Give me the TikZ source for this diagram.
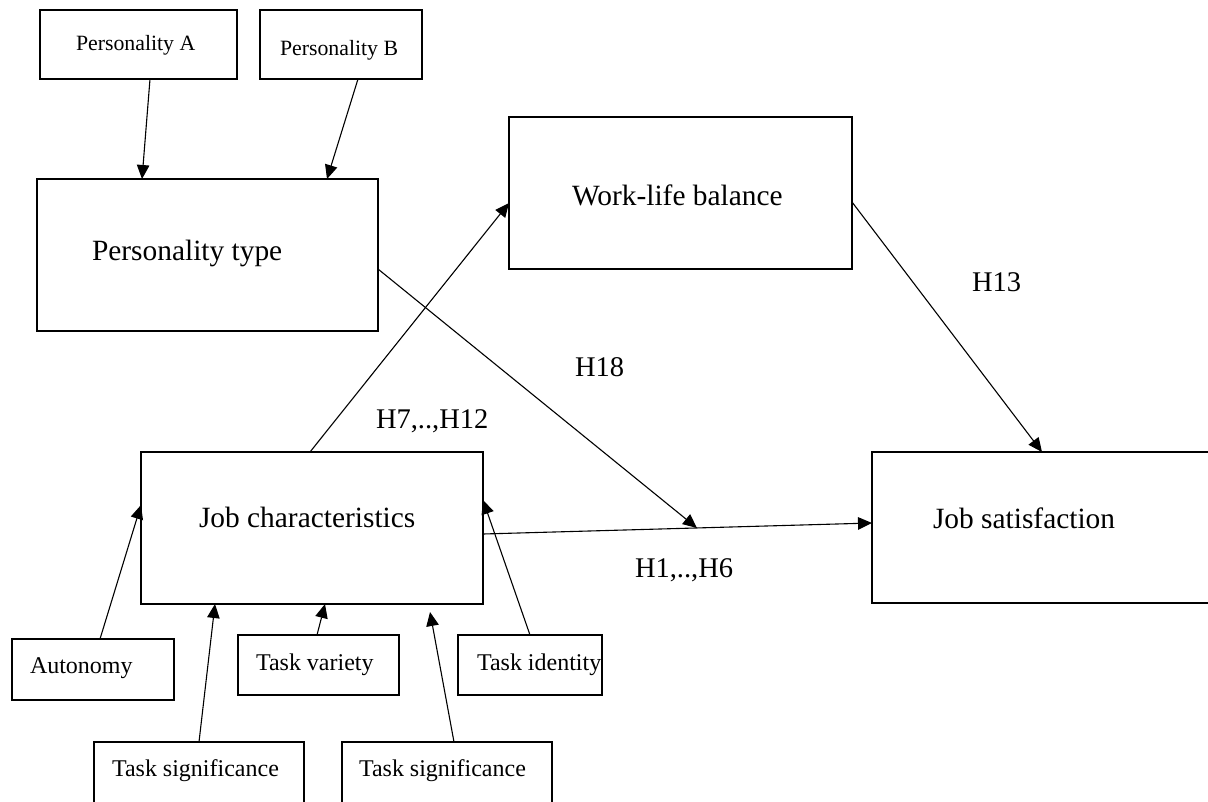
\documentclass[tikz,border=0pt]{standalone}
\usepackage{fontspec}
\setmainfont{Liberation Serif}
\usetikzlibrary{arrows.meta,calc}
\begin{document}
\begin{tikzpicture}[x=1pt,y=-1pt,
  box/.style={draw, inner sep=0pt, outer sep=0pt, anchor=north west},
  bigbox/.style={box, line width=2.2pt},
  smallbox/.style={box, line width=1.2pt},
  lbl/.style={anchor=base west, inner sep=0pt, outer sep=0pt},
  bigtxt/.style={lbl, font=\fontsize{29.4pt}{34pt}\selectfont},
  htxt/.style={lbl, font=\fontsize{28.5pt}{33pt}\selectfont},
  smalltxt/.style={lbl, font=\fontsize{24pt}{28pt}\selectfont},
  perstxt/.style={lbl, font=\fontsize{21.8pt}{26pt}\selectfont},
  conn/.style={line width=1.1pt, -{Triangle[length=14pt,width=12.5pt]}}]
\useasboundingbox (0,0) rectangle (1208,801);

% boxes
\node[bigbox, minimum width=197pt, minimum height=69pt] (pa) at (40,10) {};
\node[bigbox, minimum width=162pt, minimum height=69pt] (pb) at (260,10) {};
\node[bigbox, minimum width=341pt, minimum height=152pt] (pt) at (37,179) {};
\node[bigbox, minimum width=343pt, minimum height=152pt] (wlb) at (509,117) {};
\node[bigbox, minimum width=342pt, minimum height=152pt] (jc) at (141,452) {};
\node[bigbox, minimum width=360pt, minimum height=151pt] (js) at (872,452) {};
\node[smallbox, minimum width=162pt, minimum height=61pt] (au) at (12,639) {};
\node[smallbox, minimum width=161pt, minimum height=60pt] (tv) at (238,635) {};
\node[smallbox, minimum width=144pt, minimum height=60pt] (ti) at (458,635) {};
\node[smallbox, minimum width=210pt, minimum height=90pt] (ts1) at (94,742) {};
\node[smallbox, minimum width=210pt, minimum height=90pt] (ts2) at (342,742) {};

% texts
\node[perstxt] (tpa) at (76,50) {Personality A};
\node[perstxt] (tpb) at (280,55) {Personality B};
\node[bigtxt] (tpt) at (92,260) {Personality type};
\node[bigtxt] (twlb) at (572,205) {Work-life balance};
\node[bigtxt] (tjc) at (199,527) {Job characteristics};
\node[bigtxt] (tjs) at (933,528) {Job satisfaction};
\node[smalltxt] (tau) at (30,673) {Autonomy};
\node[smalltxt] (ttv) at (256,670) {Task variety};
\node[smalltxt] (tti) at (477,670) {Task identity};
\node[smalltxt] (tts1) at (112,776) {Task significance};
\node[smalltxt] (tts2) at (359,776) {Task significance};
\node[htxt] (h13) at (972,291.5) {H13};
\node[htxt] (h18) at (575,376.5) {H18};
\node[htxt] (h712) at (376,428.5) {H7,..,H12};
\node[htxt] (h16) at (635,577.5) {H1,..,H6};

% connectors
\draw[conn] ([xshift=110pt]pa.south west) -- ([xshift=105pt]pt.north west);
\draw[conn] ([xshift=98pt]pb.south west) -- ([xshift=290pt]pt.north west);
\coordinate (jcout) at ([yshift=-82pt]jc.north east);
\coordinate (jsin) at ([yshift=-71pt]js.north west);
\draw[conn] (jcout) -- (jsin);
\coordinate (h18end) at ($(jcout)!0.55!(jsin)$);
\draw[conn] ([yshift=-90pt]pt.north east) -- (h18end);
\draw[conn] ([xshift=169pt]jc.north west) -- ([yshift=-86pt]wlb.north west);
\draw[conn] ([yshift=-85pt]wlb.north east) -- ([xshift=170pt]js.north west);
\draw[conn] ([xshift=88pt]au.north west) -- ([yshift=-53pt]jc.north west);
\draw[conn] ([xshift=105pt]ts1.north west) -- ([xshift=74pt]jc.south west);
\draw[conn] ([xshift=79pt]tv.north west) -- ([xshift=184pt]jc.south west);
\coordinate (ts2end) at ([xshift=289pt,yshift=-8pt]jc.south west);
\draw[conn] ([xshift=112pt]ts2.north west) -- (ts2end);
\draw[conn] ([xshift=72pt]ti.north west) -- ([yshift=-48pt]jc.north east);
\end{tikzpicture}
\end{document}
